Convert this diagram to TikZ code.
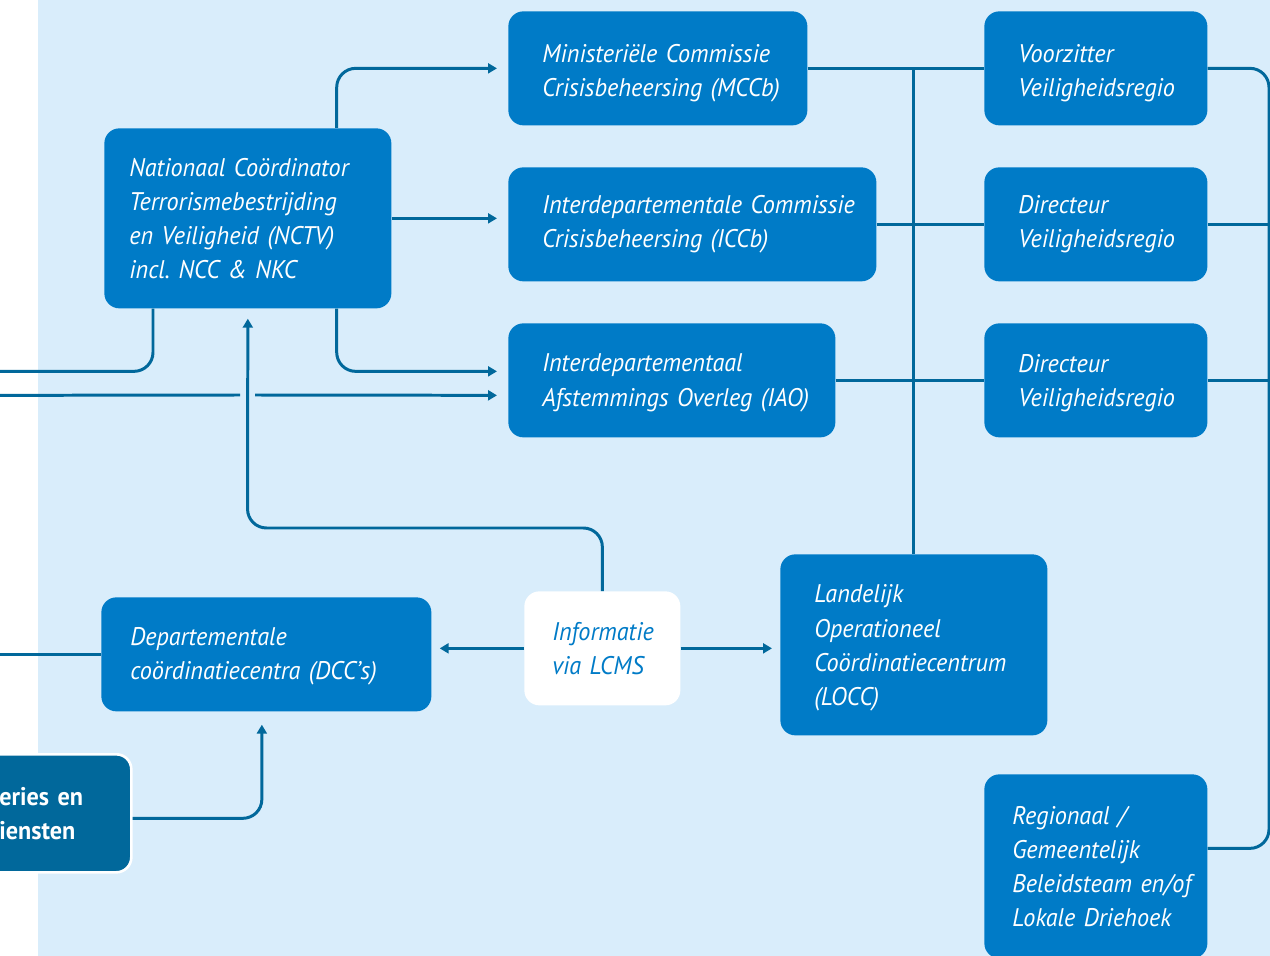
\documentclass[tikz,border=0pt]{standalone}
\usepackage{fontspec}
\setmainfont{PT Sans}[FakeStretch=0.95, WordSpace=0.8]
\frenchspacing
\usetikzlibrary{arrows.meta}
\definecolor{hemelblauw}{HTML}{007BC7}
\definecolor{donkerblauw}{HTML}{01689B}
\definecolor{lichtblauw}{HTML}{D9EDFB}
\begin{document}
\begin{tikzpicture}[
    blok/.style 2 args = {rectangle, fill = hemelblauw, text = white, rounded corners = 0.3cm, anchor = north west, inner sep = 0pt, minimum height = 2.28cm, text width = #1, align = left, execute at begin node = {\leftskip = #2}, font = \fontsize{14.5}{19.4}\selectfont\itshape},
    zakken/.style = {execute at end node = {\endgraf\kern -#1}},
    lijn/.style = {donkerblauw, line width = 1.7pt, rounded corners = 0.38cm},
    > = {Triangle[length = 1.8mm, width = 2mm]}
  ]
    \useasboundingbox (0, 0) rectangle (25.4, -19.12);
    \fill [lichtblauw] (0.76, 0) rectangle (25.4, -19.12);
    \node [blok = {5.74cm}{0.5cm}, minimum height = 3.6cm] (nctv) at (2.08, -2.56) {Nationaal Coördinator\\Terrorismebestrijding\\en Veiligheid (NCTV)\\incl. NCC \& NKC};
    \node [blok = {5.98cm}{0.68cm}, zakken = 0.2cm] (mccb) at (10.16, -0.22) {Ministeriële Commissie\\Crisisbeheersing (MCCb)};
    \node [blok = {7.36cm}{0.68cm}] (iccb) at (10.16, -3.34) {Interdepartementale Commissie\\Crisisbeheersing (ICCb)};
    \node [blok = {6.54cm}{0.68cm}, zakken = 0.1cm] (iao) at (10.16, -6.46) {Interdepartementaal\\Afstemmings Overleg (IAO)};
    \node [blok = {4.46cm}{0.68cm}, zakken = 0.2cm] (voorz) at (19.68, -0.22) {Voorzitter\\Veiligheidsregio};
    \node [blok = {4.46cm}{0.68cm}] (dir1) at (19.68, -3.34) {Directeur\\Veiligheidsregio};
    \node [blok = {4.46cm}{0.68cm}, zakken = 0.1cm] (dir2) at (19.68, -6.46) {Directeur\\Veiligheidsregio};
    \node [blok = {5.34cm}{0.68cm}, minimum height = 3.62cm, zakken = 0.12cm] (locc) at (15.6, -11.08) {Landelijk\\Operationeel\\Coördinatiecentrum\\(LOCC)};
    \node [blok = {4.46cm}{0.56cm}, minimum height = 3.68cm] (regio) at (19.68, -15.48) {Regionaal /\\Gemeentelijk\\Beleidsteam en/of\\Lokale Driehoek};
    \node [blok = {6.6cm}{0.58cm}, zakken = 0.06cm] (dcc) at (2.02, -11.94) {Departementale\\coördinatiecentra (DCC’s)};
    \node [blok = {3.12cm}{0.56cm}, fill = white, text = hemelblauw] (info) at (10.48, -11.82) {Informatie\\via LCMS};
    \node [blok = {4.6cm}{1.96cm}, fill = donkerblauw, draw = white, line width = 1.5pt, minimum height = 2.36cm, font = \fontsize{14.5}{19.4}\selectfont\bfseries] (dienst) at (-2, -15.06) {eries en\\iensten};
    \coordinate (links) at (0, 0);
    \coordinate (rechts) at (25.38, -10);
    \coordinate (kruising) at (4.95, -10.56);
    \coordinate (gat) at (4.95, -7.9);
    \draw [lijn, ->, shorten > = 0.22cm] ([xshift = -1.1cm]nctv.north east) |- (mccb.west);
    \draw [lijn, ->, shorten > = 0.22cm] (nctv.east) -- (nctv.east -| iccb.west);
    \draw [lijn, ->, shorten > = 0.22cm] ([xshift = -1.1cm]nctv.south east) |- ([yshift = 0.18cm]iao.west);
    \draw [lijn] ([xshift = 0.98cm]nctv.south west) |- ([yshift = 0.18cm]iao.west -| links);
    \draw [lijn] ([yshift = -0.3cm]iao.west -| links) -- ([xshift = -0.15cm]gat);
    \draw [lijn, ->, shorten > = 0.22cm] ([xshift = 0.15cm]gat) -- ([yshift = -0.3cm]iao.west);
    \draw [lijn, ->, shorten > = 0.2cm] (info.north) |- (kruising) -- (nctv.south);
    \draw [lijn, ->, shorten > = 0.16cm] (info.west) -- (info.west -| dcc.east);
    \draw [lijn, ->, shorten > = 0.16cm] (info.east) -- (info.east -| locc.west);
    \draw [lijn] (dcc.west) -- (dcc.west -| links);
    \draw [lijn, ->, shorten > = 0.26cm] ([yshift = -0.1cm]dienst.east) -| ([xshift = -0.09cm]dcc.south);
    \draw [lijn] (locc.north) -- (locc.north |- mccb.east);
    \draw [lijn] (mccb.east) -- (voorz.west);
    \draw [lijn] (iccb.east) -- (dir1.west);
    \draw [lijn] (iao.east) -- (dir2.west);
    \draw [lijn] (voorz.east) -| (rechts) |- ([yshift = 0.36cm]regio.east);
    \draw [lijn] (dir1.east) -- (dir1.east -| rechts);
    \draw [lijn] (dir2.east) -- (dir2.east -| rechts);
  \end{tikzpicture}
\end{document}
